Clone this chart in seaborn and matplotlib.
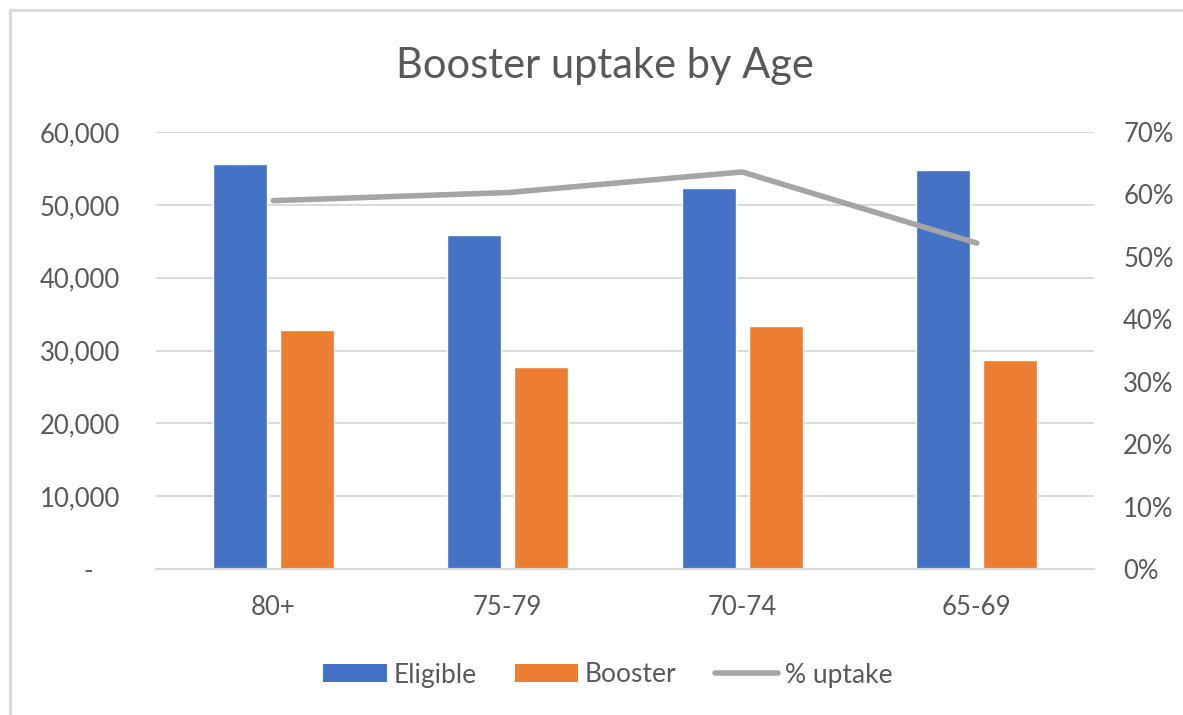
import numpy as np
import pandas as pd
import matplotlib
matplotlib.use('Agg')
import matplotlib.pyplot as plt
import seaborn as sns
from matplotlib.ticker import FuncFormatter
from matplotlib.lines import Line2D
from matplotlib.patches import Patch, Rectangle

# ---- data ----
ages = ['80+', '75-79', '70-74', '65-69']
eligible = [55650, 45910, 52360, 54770]
booster = [32880, 27710, 33330, 28670]
uptake = [0.590, 0.603, 0.636, 0.522]
left_ticks = [0, 10000, 20000, 30000, 40000, 50000, 60000]
right_ticks = [0.0, 0.1, 0.2, 0.3, 0.4, 0.5, 0.6, 0.7]
series_names = ['Eligible', 'Booster', '% uptake']
title = 'Booster uptake by Age'

BLUE = '#4472C4'
ORANGE = '#ED7D31'
GREY = '#A5A5A5'
TXT = '#595959'
GRID = '#D9D9D9'

sns.set_theme(style='white')
plt.rcParams['font.family'] = ['Lato', 'DejaVu Sans']

W, H = 1183, 715
fig = plt.figure(figsize=(W / 100, H / 100), dpi=100)
L, R, B, T = 156, 1094, 569, 132
ax = fig.add_axes([L / W, 1 - B / H, (R - L) / W, (B - T) / H])

df = pd.DataFrame({
    'Age': ages * 2,
    'Value': eligible + booster,
    'Series': [series_names[0]] * len(ages) + [series_names[1]] * len(ages),
})
sns.barplot(data=df, x='Age', y='Value', hue='Series', order=ages,
            hue_order=series_names[:2], palette=[BLUE, ORANGE],
            width=0.572, gap=0.2, saturation=1, errorbar=None,
            legend=False, ax=ax, zorder=2)

ax.set_ylim(0, 60000)
ax.set_xlim(-0.5, len(ages) - 0.5)
ax.set_yticks(left_ticks)
ax.yaxis.set_major_formatter(FuncFormatter(lambda v, p: '-    ' if v == 0 else f'{v:,.0f}'))
ax.yaxis.grid(True, color=GRID, lw=1.4, zorder=0)
ax.set_axisbelow(True)
for s in ax.spines.values():
    s.set_visible(False)
ax.spines['bottom'].set_visible(True)
ax.spines['bottom'].set_color(GRID)
ax.spines['bottom'].set_linewidth(1.6)
ax.set_xlabel('')
ax.set_ylabel('')
ax.tick_params(axis='y', length=0, pad=26, labelsize=18.5, labelcolor=TXT)
ax.tick_params(axis='x', length=0, pad=19, labelsize=18.5, labelcolor=TXT)

ax2 = ax.twinx()
sns.lineplot(x=np.arange(len(ages)), y=uptake, ax=ax2, color=GREY,
             linewidth=4.0, sort=False, solid_capstyle='round', zorder=3)
ax2.set_ylim(0, 0.7)
ax2.set_xlim(-0.5, len(ages) - 0.5)
ax2.set_yticks(right_ticks)
ax2.yaxis.set_major_formatter(FuncFormatter(lambda v, p: f'{v * 100:.0f}%'))
for s in ax2.spines.values():
    s.set_visible(False)
ax2.tick_params(axis='y', length=0, pad=21, labelsize=18.5, labelcolor=TXT)
ax2.set_ylabel('')
ax2.grid(False)

fig.text(605 / W, 1 - 66 / H, title, ha='center', va='center',
         fontsize=30, color=TXT)

handles = [Patch(facecolor=BLUE, edgecolor='none'),
           Patch(facecolor=ORANGE, edgecolor='none'),
           Line2D([0], [0], color=GREY, lw=4.0, solid_capstyle='round')]
fig.legend(handles, series_names, loc='center', bbox_to_anchor=(608 / W, 1 - 675 / H),
           ncol=3, frameon=False, fontsize=19, handlelength=2.4,
           handleheight=0.65, handletextpad=0.26, columnspacing=1.45,
           labelcolor=TXT)

fig.add_artist(Rectangle((10 / W, -0.1), 1.2, 1 - 10 / H + 0.1,
                         transform=fig.transFigure, fill=False,
                         edgecolor=GRID, lw=2))

fig.savefig('out.png', dpi=100)
